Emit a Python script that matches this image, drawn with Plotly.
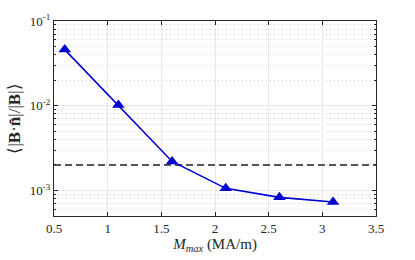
import plotly.graph_objects as go

m_max = [0.6, 1.1, 1.6, 2.1, 2.6, 3.1]
bn_ratio = [0.046, 0.0102, 0.0022, 0.00106, 0.00083, 0.00073]
threshold = 2e-3
x_ticks = [0.5, 1, 1.5, 2, 2.5, 3, 3.5]
x_ticklabels = ["0.5", "1", "1.5", "2", "2.5", "3", "3.5"]
y_ticks = [1e-3, 1e-2, 1e-1]
y_ticklabels = ["10<sup>-3</sup>", "10<sup>-2</sup>", "10<sup>-1</sup>"]

fig = go.Figure()
fig.add_trace(go.Scatter(
    x=[0.5, 3.5], y=[threshold, threshold], mode="lines",
    line=dict(color="#222222", width=1.3, dash="7px,4px"), showlegend=False))
fig.add_trace(go.Scatter(
    x=m_max, y=bn_ratio, mode="lines+markers",
    line=dict(color="#0000D0", width=1.6),
    marker=dict(symbol="triangle-up", size=11, color="#0000D0"),
    showlegend=False))

font = "Liberation Serif"
fig.update_layout(
    width=415, height=260, autosize=False,
    margin=dict(l=54, r=39, t=19, b=40),
    paper_bgcolor="white", plot_bgcolor="white",
    font=dict(family=font, size=13, color="#262626"),
    xaxis=dict(
        range=[0.5, 3.5], tickvals=x_ticks, ticktext=x_ticklabels,
        showgrid=True, gridcolor="#E8E8E8", gridwidth=1,
        ticks="inside", ticklen=4, tickcolor="#262626",
        showline=True, linecolor="#262626", linewidth=1, mirror="ticks",
        zeroline=False,
        title=dict(text="<i>M</i><sub><i>max</i></sub> (MA/m)", standoff=2,
                   font=dict(family=font, size=15)),
    ),
    yaxis=dict(
        type="log", range=[-3.301, -1],
        tickvals=y_ticks, ticktext=y_ticklabels,
        showgrid=True, gridcolor="#E8E8E8", gridwidth=1,
        ticks="inside", ticklen=4, tickcolor="#262626",
        showline=True, linecolor="#262626", linewidth=1, mirror="ticks",
        zeroline=False,
        minor=dict(dtick="D1", showgrid=True, gridcolor="#D0D0D0",
                   griddash="1px,3px", ticks="inside", ticklen=2,
                   tickcolor="#262626"),
        title=dict(text="⟨|<b>B</b>·<b>n̂</b>|/|<b>B</b>|⟩", standoff=4,
                   font=dict(family=font, size=17)),
    ),
)
fig.write_html("out.html", config={"displayModeBar": False},
               post_script="document.body.style.margin='0';")
